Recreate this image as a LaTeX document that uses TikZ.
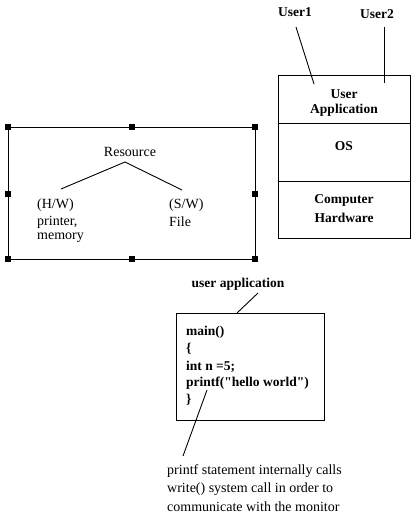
\documentclass[tikz,border=0pt]{standalone}
\usepackage{fontspec}
\setmainfont{Liberation Serif}
\begin{document}
\begin{tikzpicture}[x=1pt,y=-1pt,
  txt/.style={inner sep=0pt,font=\fontsize{14}{16}\selectfont},
  btxt/.style={inner sep=0pt,font=\fontsize{13.5}{16}\selectfont\bfseries},
  handle/.style={fill=black,minimum size=6pt,inner sep=0pt,draw=none},
  ln/.style={draw=black,line width=0.9pt}]
\useasboundingbox[fill=white] (0,0) rectangle (416,515);
% Resource box
\draw[ln] (8,127) rectangle (255,259);
\foreach \p/\n in {{8,127}/h1,{132,127}/h2,{255,127}/h3,{8,194}/h4,{255,194}/h5,{8,259}/h6,{132,259}/h7,{255,259}/h8}
  \node[handle] (\n) at (\p) {};
\node[txt] (res) at (130,152) {Resource};
\coordinate (rtop) at (125,162);
\coordinate (hwtop) at (61,189);
\coordinate (swtop) at (182,190);
\draw[ln] (hwtop) -- (rtop) -- (swtop);
\node[txt,anchor=west] (hw1) at (37,205) {(H/W)};
\node[txt,anchor=west] (hw2) at (37,222) {printer,};
\node[txt,anchor=west] (hw3) at (37,238) {memory};
\node[txt,anchor=west] (sw1) at (169,205) {(S/W)};
\node[txt,anchor=west] (sw2) at (169,222) {File};
% Stack
\draw[ln] (278,75) rectangle (410,238);
\draw[ln] (278,123) -- (410,123);
\draw[ln] (278,181) -- (410,181);
\node[btxt] (u1) at (295,12) {User1};
\node[btxt] (u2) at (377,14) {User2};
\coordinate (u1e) at (314,84);
\coordinate (u2e) at (384,83);
\draw[ln] (296,27) -- (u1e);
\draw[ln] (384,27) -- (u2e);
\node[btxt] (ua1) at (344,94) {User};
\node[btxt] (ua2) at (344,110) {Application};
\node[btxt] (os) at (344,146) {OS};
\node[btxt] (ch1) at (344,200) {Computer};
\node[btxt] (ch2) at (344,218) {Hardware};
% code box
\node[btxt] (ua) at (238,284) {user application};
\draw[ln] (176,313) rectangle (324,420);
\coordinate (uatop) at (237,313);
\draw[ln] (258,293) -- (uatop);
\node[btxt,anchor=west] (c1) at (186,332) {main()};
\node[btxt,anchor=west] (c2) at (186,349) {\{};
\node[btxt,anchor=west] (c3) at (186,367) {int n =5;};
\node[btxt,anchor=west] (c4) at (186,383) {printf(\textquotedbl hello world\textquotedbl)};
\node[btxt,anchor=west] (c5) at (186,400) {\}};
\coordinate (pf) at (207,390);
\coordinate (pfe) at (183,456);
\draw[ln] (pf) -- (pfe);
\node[txt,anchor=west] (n1) at (167,471) {printf statement internally calls};
\node[txt,anchor=west] (n2) at (167,489) {write() system call in order to};
\node[txt,anchor=west] (n3) at (167,507) {communicate with the monitor};
\end{tikzpicture}
\end{document}
